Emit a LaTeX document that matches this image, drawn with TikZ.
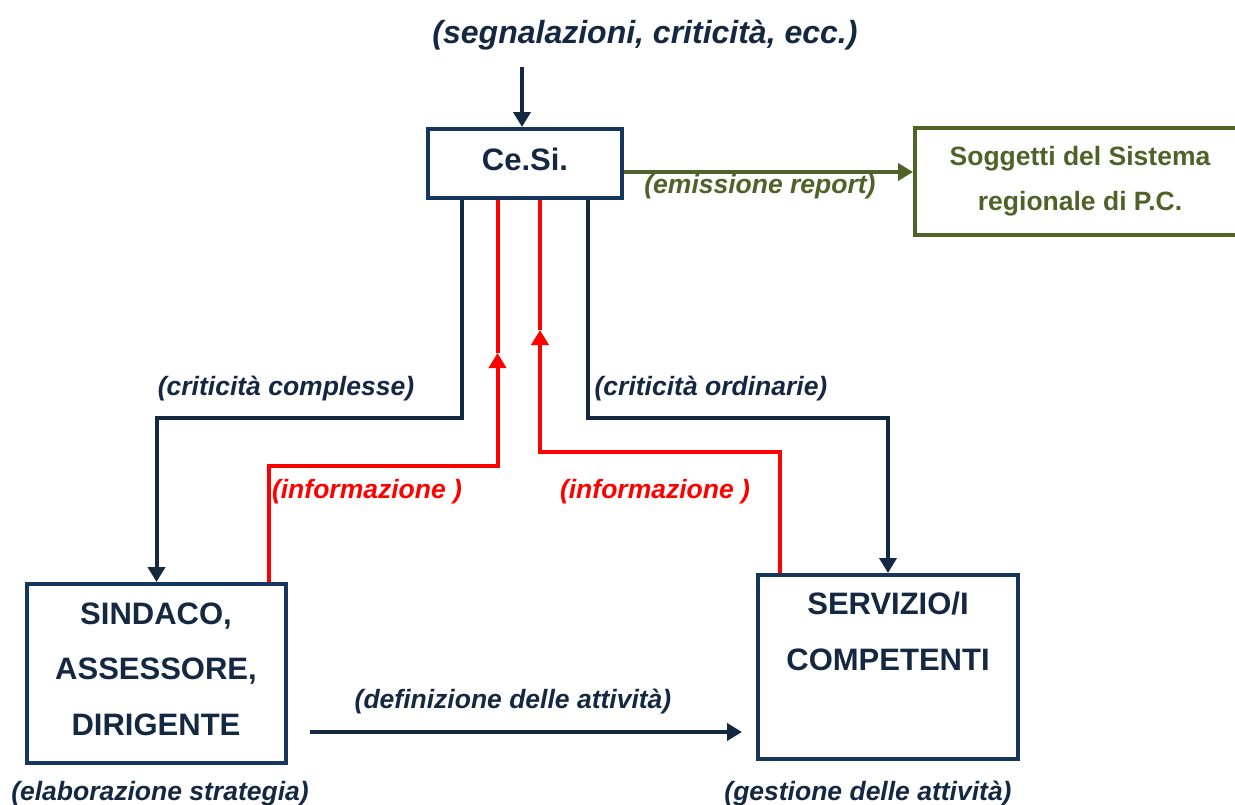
\documentclass[tikz,border=0pt]{standalone}
\usepackage{fontspec}
\setmainfont{Liberation Sans}
\usetikzlibrary{arrows.meta}
\definecolor{navy}{RGB}{20,40,66}
\definecolor{boxblue}{RGB}{23,54,93}
\definecolor{olive}{RGB}{79,98,40}
\definecolor{pured}{RGB}{255,0,0}
\begin{document}
\begin{tikzpicture}[x=1pt,y=-1pt,
  box/.style={draw=boxblue, line width=4pt, inner sep=0pt, fill=white},
  gbox/.style={draw=olive, line width=4pt, inner sep=0pt, fill=white},
  boxtext/.style={text=navy, inner sep=0pt, align=center, font=\fontsize{31}{55.5}\selectfont\bfseries},
  gtext/.style={text=olive, inner sep=0pt, align=center, font=\fontsize{26.5}{45}\selectfont\bfseries},
  conn/.style={draw=navy, line width=4pt},
  rconn/.style={draw=pured, line width=4pt},
  gconn/.style={draw=olive, line width=4pt},
  arr/.style={-{Triangle[length=15pt,width=17pt]}},
  lab/.style={text=navy, anchor=base, inner sep=0pt, font=\fontsize{26.5}{30}\selectfont\bfseries\itshape},
  rlab/.style={lab, text=pured},
  glab/.style={lab, text=olive}
]
\useasboundingbox (0,0) rectangle (1235,804);
\clip (0,0) rectangle (1235,804);

% boxes
\node[box, minimum width=194pt, minimum height=69pt, text depth=7.6pt, boxtext] (cesi) at (525,163.5) {Ce.Si.};
\node[box, minimum width=259pt, minimum height=179pt] (sind) at (156.5,673.5) {};
\node[boxtext, anchor=north] (sindtxt) at (156,602.3) {SINDACO,\\ASSESSORE,\\DIRIGENTE};
\node[box, minimum width=260pt, minimum height=184pt] (serv) at (888,667) {};
\node[boxtext, anchor=north] (servtxt) at (888,592.3) {SERVIZIO/I\\COMPETENTI};
\node[gbox, minimum width=335pt, minimum height=107pt] (sogg) at (1082.5,181.5) {};
\node[gtext, anchor=north] (soggtxt) at (1080,146.2) {Soggetti del Sistema\\regionale di P.C.};

% helper coordinates
\coordinate (in) at (522,67);
\coordinate (gy) at (0,172);
\coordinate (cl) at (462,418);
\coordinate (cr) at (588,418);
\coordinate (rl) at (269,466);
\coordinate (rlt) at (497.5,353);
\coordinate (rr) at (780,452);
\coordinate (rrt) at (540,330);
\coordinate (da) at (310,732);
\coordinate (db) at (742,732);

% connectors
\draw[conn, arr] (in) -- (in |- cesi.north);
\draw[gconn, arr] (cesi.east |- gy) -- (sogg.west |- gy);
\draw[conn, arr] (cesi.south -| cl) -- (cl) -| (sind.north);
\draw[conn, arr] (cesi.south -| cr) -- (cr) -| (serv.north);
\draw[rconn, arr] (sind.north -| rl) |- (rlt |- rl) -- (rlt);
\draw[rconn] (rlt) -- (rlt |- cesi.south);
\draw[rconn, arr] (serv.north -| rr) |- (rrt |- rr) -- (rrt);
\draw[rconn] (rrt) -- (rrt |- cesi.south);
\draw[conn, arr] (da) -- (db);

% labels
\node[lab, font=\fontsize{32}{36}\selectfont\bfseries\itshape] (ltop) at (645,43.5) {(segnalazioni, criticità, ecc.)};
\node[glab] (lrep) at (760,193) {(emissione report)};
\node[lab] (lcc) at (286,395.5) {(criticità complesse)};
\node[lab] (lco) at (711,395.5) {(criticità ordinarie)};
\node[rlab] (li1) at (367,498.5) {(informazione )};
\node[rlab] (li2) at (655,498.5) {(informazione )};
\node[lab] (ldef) at (513,708.5) {(definizione delle attività)};
\node[lab] (lela) at (160,800.5) {(elaborazione strategia)};
\node[lab] (lges) at (868,800.5) {(gestione delle attività)};
\end{tikzpicture}
\end{document}
